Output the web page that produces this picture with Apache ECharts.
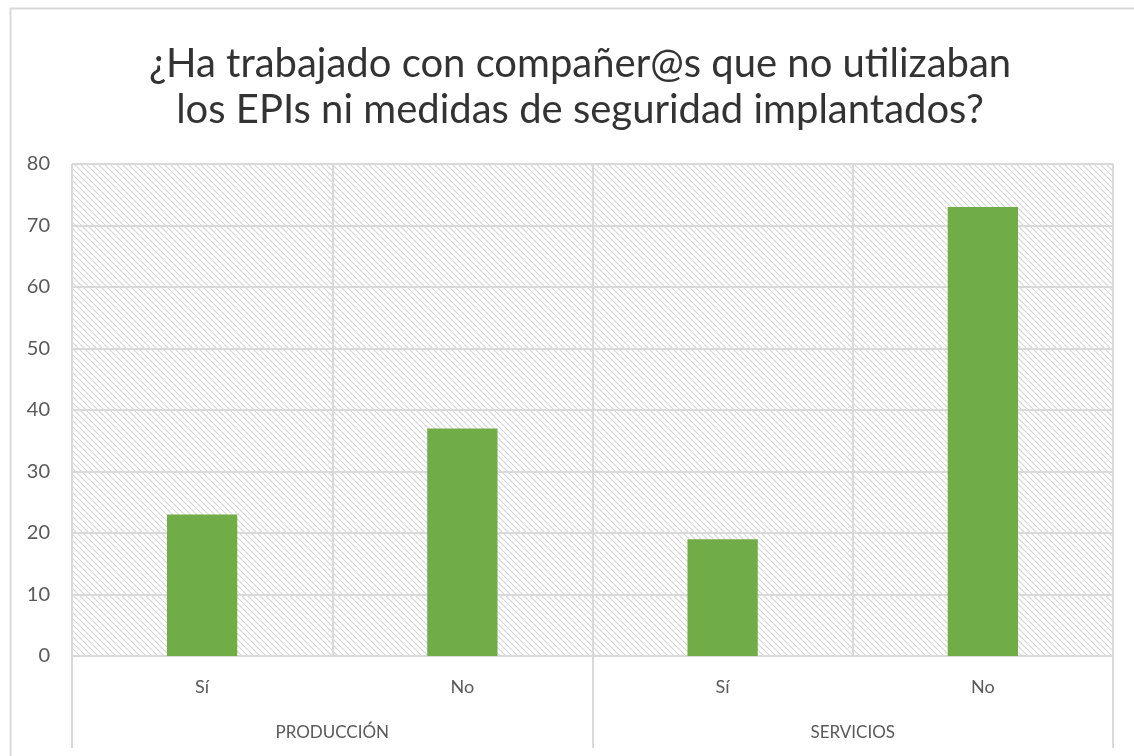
<!DOCTYPE html>
<html>
<head>
<meta charset="utf-8">
<script src="https://cdn.jsdelivr.net/npm/echarts@6/dist/echarts.min.js"></script>
<style>
  html, body { margin: 0; padding: 0; background: #fff; }
  #main { width: 1134px; height: 756px; }
</style>
</head>
<body>
<div id="main"></div>
<script>
var answers = ["Sí", "No", "Sí", "No"];
var sectors = ["PRODUCCIÓN", "SERVICIOS"];
var counts = [23, 37, 19, 73];
var yTicks = [0, 10, 20, 30, 40, 50, 60, 70, 80];

// diagonal hatch for the plot area
var hatch = document.createElement("canvas");
hatch.width = 6;
hatch.height = 6;
var hc = hatch.getContext("2d");
hc.fillStyle = "#ffffff";
hc.fillRect(0, 0, 6, 6);
hc.strokeStyle = "#d6d6d6";
hc.lineWidth = 1.2;
hc.beginPath();
hc.moveTo(-1, -1); hc.lineTo(7, 7);
hc.moveTo(-4, 2); hc.lineTo(4, 10);
hc.moveTo(2, -4); hc.lineTo(10, 4);
hc.stroke();

var chartDom = document.getElementById("main");
var myChart = echarts.init(chartDom);
var option;

option = {
  backgroundColor: "#ffffff",
  textStyle: { fontFamily: "Lato" },
  title: {
    text: "¿Ha trabajado con compañer@s que no utilizaban\nlos EPIs ni medidas de seguridad implantados?",
    left: 575,
    textAlign: "center",
    top: 36,
    textStyle: {
      fontFamily: "Lato",
      fontSize: 40,
      fontWeight: "normal",
      color: "#333333",
      lineHeight: 46
    }
  },
  graphic: [
    {
      type: "rect",
      left: 8,
      top: 6,
      shape: { width: 1140, height: 770 },
      style: { fill: "none", stroke: "#d9d9d9", lineWidth: 2 },
      silent: true
    }
  ],
  grid: {
    left: 72,
    right: 21,
    top: 164,
    bottom: 100,
    show: true,
    borderWidth: 0,
    backgroundColor: { image: hatch, repeat: "repeat" }
  },
  xAxis: [
    {
      type: "category",
      data: answers,
      position: "bottom",
      axisLine: { show: true, lineStyle: { color: "#d9d9d9", width: 2 } },
      axisTick: { show: false },
      splitLine: { show: true, lineStyle: { color: "#d9d9d9", width: 2 } },
      axisLabel: { color: "#595959", fontSize: 18, margin: 22, fontFamily: "Lato" }
    },
    {
      type: "category",
      data: sectors,
      position: "bottom",
      axisLine: { show: false },
      axisTick: { show: true, length: 92, inside: false, lineStyle: { color: "#d9d9d9", width: 2 } },
      splitLine: { show: false },
      axisLabel: { color: "#595959", fontSize: 17, margin: 68, fontFamily: "Lato" }
    }
  ],
  yAxis: {
    type: "value",
    min: yTicks[0],
    max: yTicks[yTicks.length - 1],
    interval: 10,
    axisLine: { show: false },
    axisTick: { show: false },
    splitLine: { show: true, lineStyle: { color: "#d9d9d9", width: 2 } },
    axisLabel: { color: "#595959", fontSize: 20, margin: 22, fontFamily: "Lato" }
  },
  series: [
    {
      name: "Respuestas",
      type: "bar",
      xAxisIndex: 0,
      data: counts,
      barWidth: "27%",
      itemStyle: { color: "#70ad47" }
    }
  ]
};

option && myChart.setOption(option);
</script>
</body>
</html>
